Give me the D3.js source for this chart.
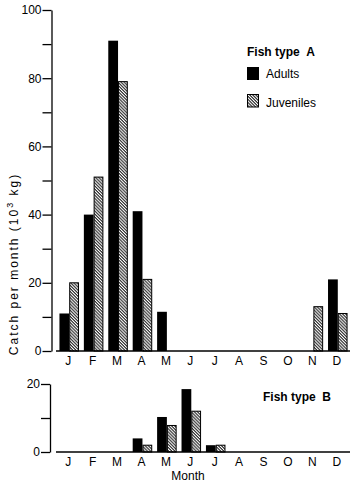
<!DOCTYPE html>
<html>
<head>
<meta charset="utf-8">
<script src="https://cdn.jsdelivr.net/npm/d3@7"></script>
<style>
body { margin: 0; background: #fff; }
svg { font-family: "Liberation Sans", Arial, sans-serif; }
.axis path, .axis line { stroke: #000; stroke-width: 1.3; }
.axis text { font-size: 12px; fill: #000; }
</style>
</head>
<body>
<svg id="chart" width="350" height="482"></svg>
<script>
var months = ["J","F","M","A","M","J","J","A","S","O","N","D"];
// fish type A, catch per month (10^3 kg)
var adultsA    = [11, 40, 91, 41, 11.5, 0, 0, 0, 0, 0, 0, 21];
var juvenilesA = [20, 51, 79, 21, 0, 0, 0, 0, 0, 0, 13, 11];
// fish type B
var adultsB    = [0, 0, 0, 4, 10.3, 18.5, 2, 0, 0, 0, 0, 0];
var juvenilesB = [0, 0, 0, 2, 7.8, 12, 2, 0, 0, 0, 0, 0];
var ticksA = [0, 20, 40, 60, 80, 100];
var ticksB = [0, 20];

var svg = d3.select("#chart");

var defs = svg.append("defs");
var pat = defs.append("pattern")
  .attr("id", "hatch")
  .attr("patternUnits", "userSpaceOnUse")
  .attr("width", 2.2).attr("height", 2.2)
  .attr("patternTransform", "rotate(45)");
pat.append("rect").attr("width", 2.2).attr("height", 2.2).attr("fill", "#fff");
pat.append("line").attr("x1", 0).attr("y1", 0.6).attr("x2", 2.2).attr("y2", 0.6)
  .attr("stroke", "#222").attr("stroke-width", 1.1);

var idx = d3.range(12);
var x = d3.scaleBand().domain(idx).range([57, 350]).paddingInner(0.2).paddingOuter(0.1);
var x1 = d3.scaleBand().domain(["adult", "juv"]).range([0, x.bandwidth()]);

function panel(adults, juvs, yScale, ticks, minor, axisX, baseY) {
  var g = svg.append("g");
  // y axis
  g.append("g").attr("class", "axis")
    .attr("transform", "translate(" + axisX + ",0)")
    .call(d3.axisLeft(yScale).tickValues(minor).tickSize(9).tickSizeOuter(0).tickFormat(function(d) {
      return ticks.indexOf(d) >= 0 ? d : "";
    }).tickPadding(1));

  var rows = idx.map(function(i) { return {i: i, a: adults[i], j: juvs[i]}; });
  var grp = g.selectAll(".grp").data(rows).enter().append("g")
    .attr("transform", function(d) { return "translate(" + x(d.i) + ",0)"; });
  grp.filter(function(d) { return d.a > 0; }).append("rect")
    .attr("x", x1("adult")).attr("width", x1.bandwidth())
    .attr("y", function(d) { return yScale(d.a); })
    .attr("height", function(d) { return baseY - yScale(d.a); })
    .attr("fill", "#000");
  grp.filter(function(d) { return d.j > 0; }).append("rect")
    .attr("x", x1("juv") + 0.5).attr("width", x1.bandwidth() - 1)
    .attr("y", function(d) { return yScale(d.j); })
    .attr("height", function(d) { return baseY - yScale(d.j); })
    .attr("fill", "url(#hatch)").attr("stroke", "#000").attr("stroke-width", 1);

  // x axis baseline
  g.append("line").attr("x1", 56).attr("x2", 350).attr("y1", baseY).attr("y2", baseY)
    .attr("stroke", "#000").attr("stroke-width", 1.4);
  g.selectAll(".mlab").data(idx).enter().append("text")
    .attr("x", function(d) { return x(d) + x.bandwidth() / 2 - 1; })
    .attr("y", baseY + 14)
    .attr("text-anchor", "middle")
    .attr("font-size", 12).attr("font-weight", "500")
    .text(function(d) { return months[d]; });
}

var yA = d3.scaleLinear().domain([0, 100]).range([351, 10]);
panel(adultsA, juvenilesA, yA, ticksA, d3.range(0, 101, 10), 51.5, 351);

var yB = d3.scaleLinear().domain([0, 20]).range([452, 384]);
panel(adultsB, juvenilesB, yB, ticksB, [0, 10, 20], 50, 452);

// y title
svg.append("text")
  .attr("transform", "translate(18,264) rotate(-90)")
  .attr("text-anchor", "middle")
  .attr("font-size", 12).attr("letter-spacing", 2)
  .html("Catch per month (10<tspan dy='-5' font-size='9'>3</tspan><tspan dy='5'> kg)</tspan>");

svg.append("text").attr("x", 188).attr("y", 480).attr("text-anchor", "middle")
  .attr("font-size", 12).text("Month");

// legend
svg.append("text").attr("x", 247).attr("y", 56).attr("font-size", 12).attr("font-weight", "bold")
  .text("Fish type\u00a0\u00a0A");
svg.append("rect").attr("x", 247).attr("y", 67).attr("width", 12).attr("height", 13).attr("fill", "#000");
svg.append("text").attr("x", 266).attr("y", 78).attr("font-size", 12).text("Adults");
svg.append("rect").attr("x", 247.5).attr("y", 94.5).attr("width", 11).attr("height", 12.5)
  .attr("fill", "url(#hatch)").attr("stroke", "#000").attr("stroke-width", 1);
svg.append("text").attr("x", 266).attr("y", 107).attr("font-size", 12).text("Juveniles");

svg.append("text").attr("x", 263).attr("y", 401).attr("font-size", 12).attr("font-weight", "bold")
  .text("Fish type\u00a0\u00a0B");
</script>
</body>
</html>
